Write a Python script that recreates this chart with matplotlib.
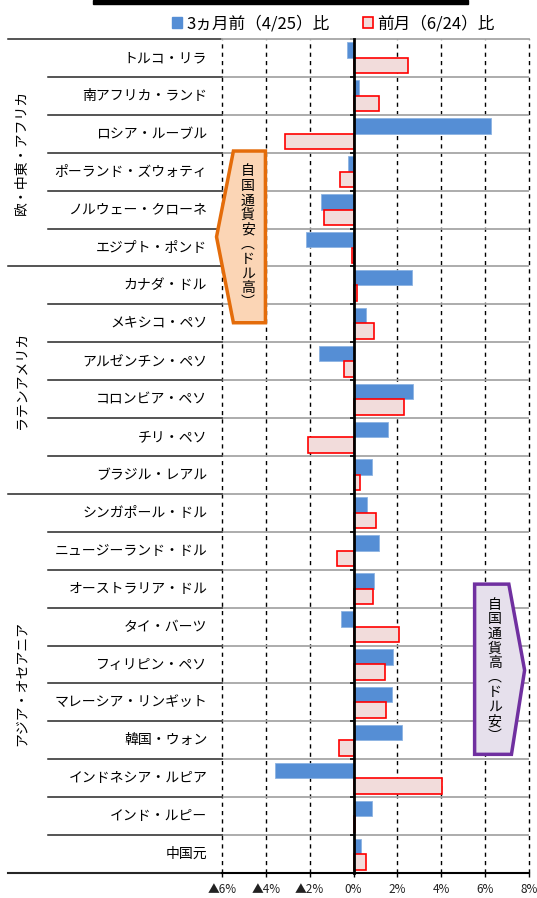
#!/usr/bin/env python3
import matplotlib
matplotlib.use("Agg")
import matplotlib.pyplot as plt
import matplotlib.transforms as mtransforms
from matplotlib.patches import Polygon, Rectangle

plt.rcParams["font.family"] = ["Noto Sans CJK JP", "DejaVu Sans"]

# data (% change vs USD)
currencies = [
    "トルコ・リラ", "南アフリカ・ランド", "ロシア・ルーブル", "ポーランド・ズウォティ",
    "ノルウェー・クローネ", "エジプト・ポンド",
    "カナダ・ドル", "メキシコ・ペソ", "アルゼンチン・ペソ", "コロンビア・ペソ",
    "チリ・ペソ", "ブラジル・レアル",
    "シンガポール・ドル", "ニュージーランド・ドル", "オーストラリア・ドル", "タイ・バーツ",
    "フィリピン・ペソ", "マレーシア・リンギット", "韓国・ウォン", "インドネシア・ルピア",
    "インド・ルピー", "中国元",
]
vs_3m = [-0.3, 0.27, 6.27, -0.26, -1.48, -2.19,
         2.67, 0.56, -1.58, 2.73, 1.55, 0.85,
         0.6, 1.14, 0.95, -0.59, 1.8, 1.73, 2.23, -3.6, 0.86, 0.36]
vs_1m = [2.5, 1.15, -3.13, -0.6, -1.37, -0.05,
         0.16, 0.95, -0.43, 2.29, -2.07, 0.29,
         1.0, -0.75, 0.88, 2.05, 1.44, 1.46, -0.65, 4.01, 0.05, 0.56]
groups = ["欧・中東・アフリカ", "ラテンアメリカ", "アジア・オセアニア"]
group_sizes = [6, 6, 10]
xticks = [-6, -4, -2, 0, 2, 4, 6, 8]
xtick_labels = ["▲6%", "▲4%", "▲2%", "0%", "2%", "4%", "6%", "8%"]
label_3m = "3ヵ月前（4/25）比"
label_1m = "前月（6/24）比"

blue = "#558ED5"
pink = "#F2DCDB"
red = "#FF0000"

fig = plt.figure(figsize=(5.37, 8.98), dpi=100)
ax = fig.add_axes([222 / 537, 1 - 873 / 898, 307 / 537, 834 / 898])

n = len(currencies)
ypos = list(range(n))
h = 0.41
ax.barh([y - h / 2 for y in ypos], vs_3m, height=h, color=blue,
        edgecolor="#8DB3E2", linewidth=0.6, zorder=3)
ax.barh([y + h / 2 for y in ypos], vs_1m, height=h, color=pink,
        edgecolor=red, linewidth=1.2, zorder=3)

ax.set_xlim(-6, 8)
ax.set_ylim(n - 0.5, -0.5)

# grid
for v in xticks:
    if v != 0:
        ax.axvline(v, color="black", ls=(0, (3, 3)), lw=1, zorder=1, clip_on=False)
for b in range(n - 1):
    ax.axhline(b + 0.5, color="#A6A6A6", lw=1.3, zorder=1)

# spines
ax.spines["right"].set_visible(False)
ax.spines["top"].set_color("#A6A6A6")
ax.spines["top"].set_linewidth(1.3)
ax.spines["bottom"].set_linewidth(1.5)
ax.spines["left"].set_position(("data", 0))
ax.spines["left"].set_linewidth(2)
ax.spines["left"].set_zorder(4)

ax.set_yticks([b + 0.5 for b in range(-1, n)])
ax.set_yticklabels([])
ax.tick_params(axis="y", direction="out", length=3, width=1.2)
ax.set_xticks(xticks)
ax.set_xticklabels(xtick_labels, fontsize=8.5, color="#222222")
ax.tick_params(axis="x", direction="out", length=3, width=1, pad=4)

# category labels and separators in the label area
trans = mtransforms.blended_transform_factory(ax.transAxes, ax.transData)
for y, name in zip(ypos, currencies):
    ax.text(-0.048, y, name, transform=trans, ha="right", va="center", fontsize=10)

group_edges = [-0.5]
for g in group_sizes:
    group_edges.append(group_edges[-1] + g)
for b in range(-1, n):
    yb = b + 0.5
    x0 = -0.697 if yb in group_edges else -0.5668
    ax.plot([x0, 0], [yb, yb], transform=trans, color="#262626",
            lw=1.5 if yb == n - 0.5 else 1.1, clip_on=False)

for gname, lo, hi in zip(groups, group_edges[:-1], group_edges[1:]):
    ax.text(-0.652, (lo + hi) / 2, gname, transform=trans, rotation=90,
            ha="center", va="center", fontsize=10)

# callouts
orange = Polygon([(-4.02, 2.455), (-5.48, 2.455), (-6.25, 4.72), (-5.48, 6.985),
                  (-4.02, 6.985)], closed=True, facecolor="#FBD5B5",
                 edgecolor="#E46C0A", lw=2.5, zorder=5, clip_on=False)
ax.add_patch(orange)
ax.text(-4.83, 4.72, "\n".join("自国通貨安︵ドル高︶"), ha="center", va="center",
        fontsize=10, linespacing=1.05, zorder=6)

purple = Polygon([(5.52, 13.88), (7.08, 13.88), (7.80, 16.15), (7.20, 18.37),
                  (5.52, 18.37)], closed=True, facecolor="#E6E0EC",
                 edgecolor="#7030A0", lw=2.5, zorder=5, clip_on=False)
ax.add_patch(purple)
ax.text(6.43, 16.15, "\n".join("自国通貨高︵ドル安︶"), ha="center", va="center",
        fontsize=10, linespacing=1.05, zorder=6)

# legend
h1 = Rectangle((0, 0), 1, 1, facecolor=blue, edgecolor=blue)
h2 = Rectangle((0, 0), 1, 1, facecolor=pink, edgecolor=red, lw=1.2)
fig.legend([h1, h2], [label_3m, label_1m], ncol=2, loc="center",
           bbox_to_anchor=(333 / 537, 1 - 24 / 898), frameon=False,
           fontsize=12, handlelength=0.6, handleheight=0.6,
           handletextpad=0.25, columnspacing=2.0, borderpad=0)

# cut-off title box at the top
fig.add_artist(Rectangle((93 / 537, 1 - 4 / 898), 375 / 537, 4 / 898,
                         transform=fig.transFigure, color="black"))

fig.savefig("out.png", dpi=100)
